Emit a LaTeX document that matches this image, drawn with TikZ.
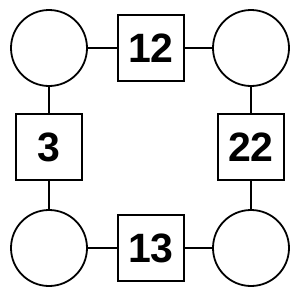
\documentclass[tikz,border=0pt]{standalone}
\usepackage{fontspec}
\setmainfont{Liberation Sans}
\begin{document}
\begin{tikzpicture}[x=1pt,y=-1pt,
  ring/.style={draw,line width=1.8pt,circle,minimum size=76pt,inner sep=0pt},
  numbox/.style={draw,line width=1.8pt,minimum size=66pt,inner sep=0pt,font=\fontsize{41}{41}\selectfont\bfseries},
  link/.style={line width=1.8pt}]
\useasboundingbox (0,0) rectangle (300,300);
\node[ring] (tl) at (49,48) {};
\node[ring] (tr) at (251,48) {};
\node[ring] (bl) at (49,248) {};
\node[ring] (br) at (251,248) {};
\node[numbox] (t) at (151,48) {12};
\node[numbox] (l) at (49,147) {3};
\node[numbox] (r) at (251,147) {22};
\node[numbox] (b) at (151,248) {13};
\draw[link] (tl) -- (t);
\draw[link] (t) -- (tr);
\draw[link] (tl) -- (l);
\draw[link] (l) -- (bl);
\draw[link] (tr) -- (r);
\draw[link] (r) -- (br);
\draw[link] (bl) -- (b);
\draw[link] (b) -- (br);
\end{tikzpicture}
\end{document}
